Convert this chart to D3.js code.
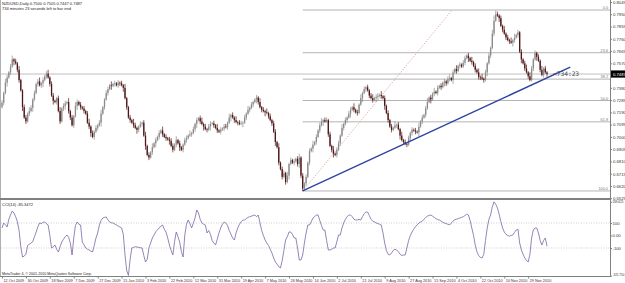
<!DOCTYPE html>
<html>
<head>
<meta charset="utf-8">
<script src="https://cdn.jsdelivr.net/npm/d3@7"></script>
<style>
  body { margin: 0; background: #fff; }
  svg { display: block; font-family: "Liberation Sans", Arial, sans-serif; }
</style>
</head>
<body>
<div id="chart"></div>
<script>
// NZDUSD daily, closes in pips (0.7265 -> 7265); open of a bar = previous close
const firstOpen = 7230;
const closes = [
  7265, 7340, 7420, 7460, 7500, 7545, 7600, 7585, 7570, 7520,
  7440, 7360, 7230, 7150, 7120, 7180, 7200, 7225, 7290, 7340,
  7410, 7430, 7400, 7415, 7440, 7470, 7490, 7460, 7410, 7320,
  7280, 7270, 7300, 7200, 7120, 7220, 7240, 7260, 7270, 7200,
  7150, 7090, 7160, 7240, 7270, 7250, 7230, 7220, 7200, 7180,
  7110, 7080, 7030, 7000, 7040, 7070, 7090, 7110, 7180, 7230,
  7290, 7340, 7370, 7400, 7395, 7410, 7415, 7400, 7420, 7415,
  7400, 7380, 7300, 7230, 7150, 7130, 7110, 7090, 7070, 7055,
  7080, 7100, 7110, 7010, 6930, 6860, 6840, 6880, 6920, 6950,
  6975, 7000, 7030, 7050, 7020, 7000, 6990, 6980, 6970, 6930,
  6900, 6940, 6975, 6950, 6920, 6900, 6940, 6975, 6990, 7010,
  7020, 7030, 7060, 7100, 7130, 7145, 7120, 7100, 7080, 7060,
  7055, 7080, 7100, 7105, 7090, 7070, 7050, 7040, 7055, 7065,
  7080, 7075, 7110, 7150, 7170, 7150, 7130, 7115, 7110, 7100,
  7105, 7110, 7150, 7180, 7210, 7225, 7250, 7270, 7290, 7305,
  7270, 7230, 7210, 7200, 7190, 7185, 7160, 7130, 7105, 7040,
  6960, 6920, 6800, 6750, 6690, 6720, 6650, 6700, 6790, 6820,
  6800, 6810, 6830, 6790, 6840, 6700, 6600, 6640, 6690, 6800,
  6890, 6910, 6940, 6960, 7000, 7050, 7090, 7115, 7130, 7120,
  7130, 7020, 6930, 6900, 6870, 6860, 6900, 6950, 7010, 7070,
  7100, 7130, 7150, 7180, 7210, 7230, 7210, 7190, 7185, 7250,
  7300, 7340, 7370, 7385, 7360, 7320, 7300, 7285, 7300, 7310,
  7320, 7325, 7315, 7300, 7240, 7185, 7130, 7080, 7055, 7070,
  7090, 7095, 7060, 7010, 6975, 6960, 6945, 6940, 6990, 7030,
  7055, 7050, 7040, 7035, 7080, 7120, 7150, 7170, 7220, 7270,
  7305, 7290, 7335, 7350, 7340, 7380, 7395, 7385, 7420, 7430,
  7415, 7450, 7455, 7440, 7500, 7525, 7510, 7550, 7560, 7545,
  7575, 7610, 7630, 7610, 7590, 7580, 7550, 7520, 7500, 7465,
  7460, 7450, 7440, 7500, 7570, 7630, 7690, 7800, 7900, 7950,
  7940, 7920, 7860, 7830, 7800, 7770, 7750, 7740, 7730, 7750,
  7770, 7790, 7810, 7660, 7600, 7570, 7530, 7500, 7470, 7440,
  7530, 7600, 7650, 7620, 7590, 7520, 7480, 7530, 7500, 7487
];
// shadow lengths in tens of pips, ten bars per group
const wickUp = [
  "2132123121", "3112213212", "1231212312", "2112312213", "1213212121", "2312121231", "1221312121", "2131121321",
  "1212312131", "2121312122", "2131211221", "3121212312", "1221213121", "2213121312", "2121312112", "1312131212",
  "2131221312", "1212312121", "2131212312", "2121312213", "1212213121", "3121212312", "2131212121", "3121312121",
  "2121312123", "1213121212", "1231213121", "2212131213", "1312121343", "2121312131", "3121212313", "2121213121"
].join("").split("").map(Number);
const wickDn = [
  "1213121312", "2131212131", "1212312121", "3121212312", "2121312121", "1231212131", "2121312122", "1312121213",
  "2121312121", "3121212131", "2121312121", "1212312131", "2131212121", "2121312121", "1312121213", "2121312121",
  "3121212131", "1212322121", "2131212131", "1212312121", "2121312121", "1312121213", "2121312121", "1213121213",
  "2121312121", "1312121213", "2121312121", "1213121212", "2121312121", "1312121213", "2121312121", "1213121212"
].join("").split("").map(Number);

// CCI(14) per bar
const cci = [
  60, 100, 85, 68, 130, 164, 196, 180, 150, 110,
  40, -90, -172, -165, -150, -80, -70, -60, -50, -10,
  28, 70, 100, 95, 105, 108, 95, 84, 0, -100,
  -90, -76, -110, -132, -90, -52, -30, -10, 4, -15,
  -60, -156, -20, 80, 108, 90, 84, -52, -75, -100,
  -110, -116, -125, -132, -80, -20, 20, 84, 120, 140,
  145, 148, 125, 108, 102, 100, 92, 84, 75, 68,
  60, 10, -156, -280, -320, -190, -100, -95, -90, -92,
  -96, -98, -100, -160, -212, -190, -100, -60, -20, 4,
  30, 45, 60, 75, 84, 50, 28, -20, -76, -120,
  -156, -50, 28, -10, -52, -130, -172, 4, 90, 124,
  95, 60, 100, 140, 204, 180, 130, 100, 90, 84,
  20, 40, 10, -40, -60, -76, -30, 20, 60, 90,
  108, 100, 80, 40, 10, -20, -36, 20, 60, 90,
  110, 124, 124, 135, 145, 150, 155, 160, 164, 150,
  164, 100, 40, 0, -36, -60, -80, -110, -140, -180,
  -212, -230, -250, -260, -200, -120, -36, -10, 28, 28,
  10, -20, -20, -100, -196, -196, -156, -60, 20, 84,
  84, 110, 140, 150, 164, 164, 120, 80, 44, 44,
  -40, -116, -116, -110, -100, -100, -50, 4, 4, 60,
  100, 130, 150, 164, 164, 150, 130, 124, 124, 130,
  124, 150, 175, 188, 188, 160, 130, 115, 108, 100,
  95, 90, 84, 20, -60, -120, -150, -156, -140, -120,
  -110, -116, -130, -150, -160, -156, -156, -100, -40, 0,
  28, 50, 70, 85, 100, 108, 115, 130, 145, 155,
  160, 164, 155, 145, 135, 128, 124, 115, 105, 100,
  95, 90, 84, 100, 115, 125, 130, 135, 140, 145,
  150, 160, 170, 164, 120, 60, 0, -76, -130, -160,
  -175, -180, -150, -40, 60, 130, 164, 230, 269, 250,
  220, 170, 110, 60, 28, 10, 0, -5, 0, 4,
  25, 44, 50, -60, -116, -150, -180, -200, -212, -150,
  -20, 44, 60, 60, 20, -40, -76, -40, -20, -85.3472
];

const priceTicks = [0.8045, 0.7950, 0.7855, 0.7760, 0.7665, 0.7570, 0.7380, 0.7285,
  0.7190, 0.7095, 0.7000, 0.6905, 0.6810, 0.6715, 0.6620, 0.6525];
const cciTicks = [269.625, 100, 0, -100, -321.75];
const cciTickLabels = ["269.625", "100", "0.00", "-100", "-321.750"];
const cciLevels = [100, -100];
const dateBars = [0, 14, 28, 42, 56, 70, 84, 98, 112, 126, 140, 154, 168, 182, 196, 210, 224, 238, 252, 266, 280, 294, 308];
const dateLabels = ["12 Oct 2009", "30 Oct 2009", "18 Nov 2009", "7 Dec 2009", "27 Dec 2009", "15 Jan 2010",
  "3 Feb 2010", "22 Feb 2010", "12 Mar 2010", "31 Mar 2010", "19 Apr 2010", "7 May 2010", "26 May 2010",
  "14 Jun 2010", "2 Jul 2010", "21 Jul 2010", "9 Aug 2010", "27 Aug 2010", "15 Sep 2010", "4 Oct 2010",
  "22 Oct 2010", "10 Nov 2010", "29 Nov 2010"];

// drawing objects: [bar, price]
const fibLow = [176, 0.6581], fibHigh = [263.5, 0.7983];
const fibLevels = [0, 23.6, 38.2, 50, 61.8, 100];
const trendLine = [[176, 0.6581], [332.6, 0.7541]];

const W = 625, H = 283, axisX = 610;
const bars = closes.map((c, i) => {
  const o = i === 0 ? firstOpen : closes[i - 1];
  return { i, o: o / 1e4, c: c / 1e4,
    h: (Math.max(o, c) + wickUp[i] * 10) / 1e4,
    l: (Math.min(o, c) - wickDn[i] * 10) / 1e4 };
});
const last = bars[bars.length - 1].c;

const svg = d3.select("#chart").append("svg").attr("width", W).attr("height", H);

const x = d3.scaleLinear().domain([0, closes.length - 1]).range([2, 547]);
const yP = d3.scaleLinear().domain([0.6525, 0.8045]).range([198.2, 2]);
const yC = d3.scaleLinear().domain([-321.75, 269.625]).range([275.7, 201.8]);

// frame
svg.append("line").attr("x1", 0.5).attr("x2", 0.5).attr("y1", 0).attr("y2", 276).attr("stroke", "#b0b0b0");
svg.append("line").attr("x1", axisX + 0.5).attr("x2", axisX + 0.5).attr("y1", 0).attr("y2", 276.5).attr("stroke", "#808080");
svg.append("line").attr("x1", 0).attr("x2", axisX).attr("y1", 199).attr("y2", 199).attr("stroke", "#808080").attr("stroke-width", 2);
svg.append("line").attr("x1", 0).attr("x2", axisX + 1).attr("y1", 276.5).attr("y2", 276.5).attr("stroke", "#808080");

// price axis
const pAxis = svg.append("g").attr("transform", `translate(${axisX},0)`)
  .call(d3.axisRight(yP).tickValues(priceTicks).tickSize(2).tickPadding(1).tickFormat(d3.format(".4f")));
pAxis.select(".domain").remove();
pAxis.selectAll("text").attr("font-size", 4.2).attr("fill", "#333");
pAxis.selectAll("line").attr("stroke", "#808080");

// bid line
svg.append("line").attr("x1", 0).attr("x2", axisX).attr("y1", yP(last)).attr("y2", yP(last)).attr("stroke", "#b0b0b0").attr("stroke-width", 0.8);

// fibonacci
const fibRange = fibHigh[1] - fibLow[1];
const fg = svg.append("g");
fibLevels.forEach(lv => {
  const yy = yP(fibHigh[1] - fibRange * lv / 100);
  fg.append("line").attr("x1", x(fibLow[0])).attr("x2", axisX).attr("y1", yy).attr("y2", yy)
    .attr("stroke", "#a0a0a0").attr("stroke-width", 0.8);
  fg.append("text").attr("x", axisX - 2).attr("y", yy - 0.8).attr("text-anchor", "end")
    .attr("font-size", 3.8).attr("fill", "#777").text(d3.format(".1f")(lv));
});
svg.append("line")
  .attr("x1", x(fibLow[0])).attr("y1", yP(fibLow[1])).attr("x2", x(fibHigh[0])).attr("y2", yP(fibHigh[1]))
  .attr("stroke", "#d08080").attr("stroke-width", 0.7).attr("stroke-dasharray", "1.2,1.6");

// candles
const cg = svg.append("g");
const bull = "#8a8a8a", bear = "#4e1616";
cg.selectAll(".wick").data(bars).enter().append("line")
  .attr("x1", d => x(d.i)).attr("x2", d => x(d.i))
  .attr("y1", d => yP(d.h)).attr("y2", d => yP(d.l))
  .attr("stroke", d => d.c >= d.o ? bull : bear).attr("stroke-width", 0.7);
cg.selectAll(".body").data(bars).enter().append("rect")
  .attr("x", d => x(d.i) - 0.65).attr("width", 1.3)
  .attr("y", d => yP(Math.max(d.o, d.c)))
  .attr("height", d => Math.max(0.6, yP(Math.min(d.o, d.c)) - yP(Math.max(d.o, d.c))))
  .attr("fill", d => d.c >= d.o ? bull : bear);

// trend line
svg.append("line")
  .attr("x1", x(trendLine[0][0])).attr("y1", yP(trendLine[0][1]))
  .attr("x2", x(trendLine[1][0])).attr("y2", yP(trendLine[1][1]))
  .attr("stroke", "#2c44a0").attr("stroke-width", 1.4);

// bar timer and price box
svg.append("text").attr("x", 553).attr("y", yP(last) + 2.4)
  .attr("font-family", "DejaVu Sans Mono, monospace").attr("font-size", 6.2).attr("fill", "#444").text("<734:23");
svg.append("rect").attr("x", axisX + 1).attr("y", yP(last) - 3.6).attr("width", 14).attr("height", 7.2).attr("fill", "#000");
svg.append("text").attr("x", axisX + 3).attr("y", yP(last) + 1.5).attr("font-size", 4.2).attr("fill", "#fff")
  .text(d3.format(".4f")(last));

// headers
svg.append("text").attr("x", 2).attr("y", 5).attr("font-size", 4).attr("fill", "#222")
  .text("NZDUSD,Daily  0.7500 0.7505 0.7447 " + d3.format(".4f")(last));
svg.append("text").attr("x", 2).attr("y", 9.5).attr("font-size", 4).attr("fill", "#222")
  .text("734 minutes 23 seconds left to bar end");

// CCI pane
cciLevels.forEach(lv => {
  svg.append("line").attr("x1", 1).attr("x2", axisX).attr("y1", yC(lv)).attr("y2", yC(lv))
    .attr("stroke", "#b8b8b8").attr("stroke-width", 0.7).attr("stroke-dasharray", "1,1.5");
});
svg.append("path").datum(cci)
  .attr("d", d3.line().x((d, i) => x(i)).y(d => yC(d)))
  .attr("fill", "none").attr("stroke", "#7a66a6").attr("stroke-width", 0.8);
svg.append("text").attr("x", 2).attr("y", 205.5).attr("font-size", 4).attr("fill", "#222")
  .text("CCI(14) " + cci[cci.length - 1]);
const cAxis = svg.append("g").attr("transform", `translate(${axisX},0)`)
  .call(d3.axisRight(yC).tickValues(cciTicks).tickSize(2).tickPadding(0.5).tickFormat((d, i) => cciTickLabels[i]));
cAxis.select(".domain").remove();
cAxis.selectAll("text").attr("font-size", 4.2).attr("fill", "#333")
  .each(function () {
    // long labels set smaller so they stay inside the window
    const t = d3.select(this);
    if (t.text().length > 5) t.attr("font-size", 3);
  });
cAxis.selectAll(".tick:last-of-type text").attr("dy", "-0.2em");
cAxis.selectAll("line").attr("stroke", "#808080");

// time axis
svg.append("text").attr("x", 2).attr("y", 274.5).attr("font-size", 3.6).attr("fill", "#222")
  .text("MetaTrader 4, \u00a9 2001-2010 MetaQuotes Software Corp.");
const tAxis = svg.append("g").attr("transform", "translate(0,276.5)")
  .call(d3.axisBottom(x).tickValues(dateBars).tickSize(2).tickPadding(0.5).tickFormat((d, i) => dateLabels[i]));
tAxis.select(".domain").remove();
tAxis.selectAll("text").attr("font-size", 3.8).attr("fill", "#333").attr("text-anchor", "start").attr("dx", 1);
tAxis.selectAll("line").attr("stroke", "#808080");
</script>
</body>
</html>
